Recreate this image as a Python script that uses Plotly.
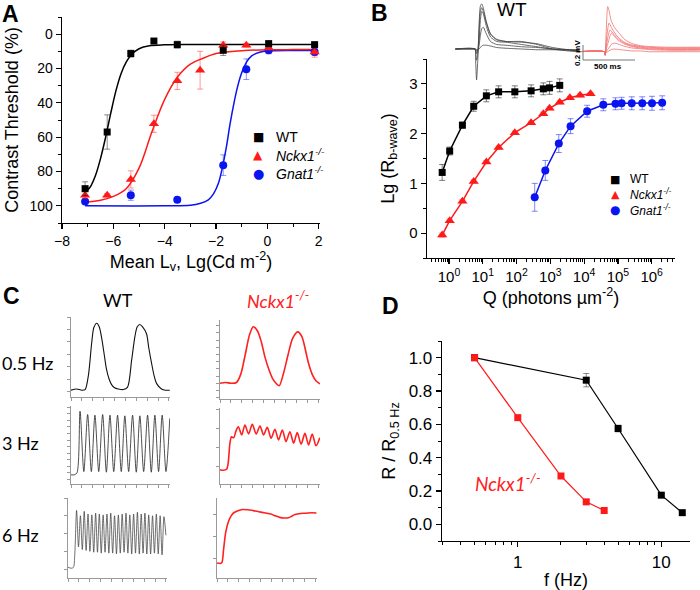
import plotly.graph_objects as go

# ======================= DATA =======================
# ---- Panel A: contrast threshold vs mean luminance ----
A_X_WT = [-7.1, -6.24, -5.32, -4.42, -3.51, -1.72, 0.05, 1.84]
A_Y_WT = [90, 57, 11.3, 4.0, 6.1, 9.4, 5.5, 6.1]
A_E_WT = [4, 10, 2, 1, 2, 3, 1, 1]
A_X_KO = [-7.1, -6.24, -5.32, -4.42, -3.51, -2.62, -1.72, -0.82, 0.05, 1.84]
A_Y_KO = [93.8, 93.8, 84.6, 52.2, 27.2, 21.0, 6.5, 6.5, 8.0, 10.4]
A_E_KO = [2, 1, 5, 5, 5, 11, 2, 1, 1, 3]
A_X_GN = [-7.1, -5.32, -3.51, -1.72, -0.82, 0.05, 1.84]
A_Y_GN = [97.5, 93.8, 96.5, 76.3, 20.4, 9.4, 10.4]
A_E_GN = [1, 3, 1, 6, 6, 2, 2]
# fitted curves
A_FIT_X_WT = [-7.1, -6.9, -6.7, -6.5, -6.3, -6.1, -5.9, -5.7, -5.5, -5.3, -5.0, -4.6, -4.0, -3.0, -1.0, 1.0, 1.85]
A_FIT_Y_WT = [92, 89, 82.5, 72.5, 60, 46, 33, 23, 16.3, 12, 8.5, 6.8, 6.2, 6, 6, 6, 6]
A_FIT_X_KO = [-7.1, -6.5, -6.0, -5.5, -5.0, -4.5, -4.0, -3.5, -3.0, -2.5, -2.0, -1.5, -1.0, 0, 1, 1.85]
A_FIT_Y_KO = [98, 96.8, 94.5, 90, 78, 57, 38, 25, 17.5, 14, 11.3, 10.2, 9.6, 9.1, 9.0, 9.0]
A_FIT_X_GN = [-7.1, -4, -3, -2.6, -2.3, -2.1, -1.9, -1.75, -1.6, -1.45, -1.3, -1.15, -1.0, -0.8, -0.6, -0.3, 0, 1, 1.85]
A_FIT_Y_GN = [100, 100, 99.7, 98.5, 96.5, 93, 86.5, 77.5, 66, 52, 40, 30, 22.5, 16, 12.5, 10.5, 9.8, 9.5, 9.5]

# ---- Panel B: b-wave amplitude vs flash strength ----
B_Q_WT = [0.63, 1.05, 2.5, 5.4, 12.8, 29.5, 89, 270, 620, 950, 1900]
B_Y_WT = [1.22, 1.65, 2.17, 2.55, 2.76, 2.84, 2.84, 2.86, 2.90, 2.92, 2.97]
B_E_WT = [0.16, 0.08, 0.06, 0.1, 0.12, 0.12, 0.12, 0.12, 0.12, 0.13, 0.13]
B_Q_KO = [0.63, 1.05, 2.5, 5.4, 12.8, 29.5, 89, 270, 620, 950, 1900, 3800, 7600, 15500]
B_Y_KO = [-0.04, 0.25, 0.64, 1.04, 1.43, 1.72, 2.02, 2.22, 2.40, 2.51, 2.63, 2.72, 2.77, 2.80]
B_E_KO = [0.04, 0.03, 0.03, 0.03, 0.03, 0.03, 0.03, 0.03, 0.03, 0.03, 0.03, 0.03, 0.03, 0.03]
B_Q_GN = [345, 710, 1780, 3980, 12300, 37000, 85000, 129000, 257000, 525000, 1020000, 2040000]
B_Y_GN = [0.72, 1.26, 1.80, 2.15, 2.45, 2.58, 2.60, 2.61, 2.61, 2.61, 2.61, 2.62]
B_E_GN = [0.28, 0.2, 0.18, 0.15, 0.12, 0.12, 0.12, 0.12, 0.13, 0.13, 0.14, 0.14]
B_TICKVALS = [1, 10, 100, 1e3, 1e4, 1e5, 1e6]
B_TICKTEXT = ["10<sup>0</sup>", "10<sup>1</sup>", "10<sup>2</sup>", "10<sup>3</sup>",
              "10<sup>4</sup>", "10<sup>5</sup>", "10<sup>6</sup>"]

# ---- Panel B insets: ERG traces (time ms, amplitude mV) ----
INSET_WT_T = [-190, 0, 6, 15, 28, 40, 52, 65, 80, 110, 150, 210, 300, 450, 600, 750, 1010]
INSET_WT_V = [
    [0, 0, -0.15, -0.41, -0.12, 0.35, 0.57, 0.60, 0.55, 0.36, 0.20, 0.13, 0.10, 0.09, 0.07, 0.02, -0.03],
    [0, 0, -0.06, -0.15, -0.04, 0.25, 0.50, 0.55, 0.50, 0.35, 0.20, 0.12, 0.10, 0.10, 0.06, 0.00, -0.04],
    [0, 0, -0.02, -0.06, -0.01, 0.12, 0.38, 0.50, 0.47, 0.30, 0.16, 0.10, 0.09, 0.06, 0.03, 0.00, -0.02],
    [0, 0, 0, -0.03, -0.02, 0.05, 0.18, 0.27, 0.29, 0.20, 0.10, 0.06, 0.05, 0.03, 0.02, 0.00, -0.01],
    [0, 0, 0, -0.01, -0.01, 0.00, 0.02, 0.04, 0.05, 0.05, 0.04, 0.02, 0.01, 0.00, -0.01, -0.01, -0.02],
]
INSET_KO_T = [-250, 0, 8, 18, 33, 45, 55, 70, 100, 135, 200, 265, 350, 425, 600, 925]
INSET_KO_V = [
    [0, 0, -0.05, 0.25, 0.60, 0.55, 0.48, 0.40, 0.32, 0.26, 0.16, 0.11, 0.08, 0.07, 0.06, 0.06],
    [0, 0, -0.05, 0.12, 0.30, 0.38, 0.36, 0.32, 0.25, 0.19, 0.12, 0.09, 0.07, 0.06, 0.05, 0.05],
    [0, 0, -0.04, 0.06, 0.18, 0.25, 0.29, 0.27, 0.22, 0.17, 0.11, 0.08, 0.06, 0.05, 0.04, 0.04],
    [0, 0, -0.04, 0.03, 0.10, 0.16, 0.21, 0.245, 0.20, 0.15, 0.10, 0.07, 0.05, 0.04, 0.03, 0.03],
    [0, 0, -0.03, 0.00, 0.03, 0.05, 0.07, 0.10, 0.115, 0.10, 0.07, 0.05, 0.04, 0.03, 0.02, 0.02],
    [0, 0, -0.02, -0.01, 0.00, 0.01, 0.02, 0.03, 0.035, 0.03, 0.02, 0.01, 0.01, 0.00, 0.00, 0.00],
]

# ---- Panel C: flicker ERG traces (time in ticks, amplitude in ticks) ----
C_WT05_X = [0, 0.5, 1.0, 1.3, 1.6, 1.9, 2.1, 2.36, 2.6, 2.82, 3.05, 3.27, 3.5, 3.73, 4.0, 4.34, 4.8,
            5.2, 5.57, 5.87, 6.08, 6.33, 6.58, 6.94, 7.15, 7.4, 7.63, 7.86, 8.32, 8.7, 9.08]
C_WT05_Y = [0.1, 0.2, 0.1, 0.15, 1.3, 3.9, 5.15, 5.5, 5.2, 4.3, 3.0, 1.75, 1.0, 0.55, 0.3, 0.2, 0.15,
            0.35, 2.5, 4.4, 5.2, 5.4, 5.2, 4.65, 3.5, 2.3, 1.3, 0.65, 0.2, 0.1, 0.1]
C_WT3_X = [0, 0.3, 0.55, 0.83, 1.18, 1.53, 1.87, 2.2, 2.55, 2.91, 3.25, 3.58, 3.93, 4.28, 4.62, 4.95,
           5.3, 5.66, 6.0, 6.33, 6.68, 7.04, 7.38, 7.71, 8.05, 8.38, 8.73, 9.08]
C_WT3_Y = [-0.3, -0.3, 0.0, 9.4, 0.2, 8.9, 0.2, 8.8, 0.2, 8.9, 0.1, 8.8, 0.2, 8.8, 0.2, 8.7,
           0.2, 8.8, 0.1, 8.7, 0.2, 8.8, 0.1, 8.8, 0.2, 8.8, 0.2, 8.3]
C_WT6_START_X = [0, 0.3, 0.5, 0.62]
C_WT6_START_Y = [0.1, 0.05, 0.1, 0.8]
C_WT6_PEAK_X = [0.79, 1.14, 1.49, 1.84, 2.19, 2.54, 2.88, 3.23, 3.58, 3.93, 4.28, 4.63, 4.98, 5.33,
                5.68, 6.03, 6.38, 6.73, 7.07, 7.42, 7.77, 8.12, 8.47, 8.82]
C_WT6_PEAK_Y = [3.3, 3.0, 3.25, 3.1, 3.05, 3.15, 3.1, 3.05, 3.1, 3.15, 3.0, 3.05, 3.1, 3.15,
                3.05, 3.1, 3.2, 3.1, 3.15, 3.05, 3.0, 3.1, 3.0, 2.95]
C_WT6_TROUGH_X = [0.965, 1.315, 1.665, 2.015, 2.365, 2.71, 3.055, 3.405, 3.755, 4.105, 4.455, 4.805,
                  5.155, 5.505, 5.855, 6.205, 6.555, 6.9, 7.245, 7.595, 7.945, 8.295, 8.645, 9.0]
C_WT6_TROUGH_Y = [1.25, 1.1, 1.05, 1.0, 0.95, 0.95, 0.9, 0.95, 0.9, 0.9, 0.85, 0.9,
                  0.95, 0.9, 0.85, 0.9, 0.85, 0.9, 0.85, 0.85, 0.9, 0.85, 0.8, 1.9]
C_KO05_X = [0, 0.5, 1.0, 1.5, 1.9, 2.3, 2.7, 3.03, 3.4, 3.75, 4.1, 4.45, 4.8, 5.1, 5.39, 5.75, 6.2,
            6.6, 7.06, 7.45, 7.75, 8.05, 8.4, 8.75, 9.1]
C_KO05_Y = [0, 0.1, 0, 0.1, 1.3, 4.0, 6.8, 7.85, 7.3, 5.8, 3.6, 1.9, 0.6, 0.0, -0.35, 1.2, 4.0,
            6.2, 7.15, 6.5, 4.8, 2.8, 1.2, 0.3, -0.1]
C_KO3_X = [0, 0.3, 0.6, 0.75, 0.9, 1.05, 1.25, 1.45, 1.67, 1.97, 2.27, 2.6, 2.94, 3.29, 3.64, 3.97,
           4.3, 4.65, 5.0, 5.33, 5.67, 6.01, 6.36, 6.7, 7.03, 7.38, 7.73, 8.06, 8.39, 8.74, 9.08]
C_KO3_Y = [-0.17, -0.2, -0.15, 0.2, 1.2, 1.55, 1.5, 1.85, 2.08, 1.65, 2.17, 1.70, 2.21, 1.70, 2.12, 1.65,
           2.05, 1.48, 1.95, 1.39, 1.91, 1.30, 1.82, 1.22, 1.77, 1.17, 1.73, 1.13, 1.70, 1.08, 1.5]
C_KO6_X = [0, 0.3, 0.45, 0.6, 0.8, 1.06, 1.3, 1.5, 1.9, 2.3, 2.8, 3.3, 3.8, 4.4, 4.9, 5.3, 5.7, 6.1,
           6.5, 6.8, 7.1, 7.6, 8.1, 8.6, 9.05]
C_KO6_Y = [-0.23, -0.25, -0.2, 0.4, 1.2, 1.7, 1.95, 2.07, 2.17, 2.23, 2.22, 2.18, 2.13, 2.07, 2.02, 1.94,
           1.87, 1.84, 1.85, 1.92, 2.0, 2.05, 2.06, 2.08, 2.07]

# ---- Panel D: normalised flicker response vs frequency ----
D_F_WT = [0.5, 3, 5, 10, 14]
D_R_WT = [1.0, 0.865, 0.575, 0.175, 0.07]
D_E_WT = [0, 0.04, 0.02, 0.01, 0.01]
D_F_KO = [0.5, 1, 2, 3, 4]
D_R_KO = [1.0, 0.64, 0.29, 0.135, 0.083]

LEG_NAMES = ["WT", "<i>Nckx1<sup>-/-</sup></i>", "<i>Gnat1<sup>-/-</sup></i>"]
LEG_SYMBOLS = ["\u25a0", "\u25b2", "\u25cf"]

# ======================= STYLE / LAYOUT =======================
W, H = 700, 590
FONT = "Liberation Sans, Arial, sans-serif"
CFONT = "Lato, Liberation Sans, sans-serif"
BLACK, RED, BLUE = "#000000", "#ff1a1a", "#0a14f0"
GRAYAX = "#9a9a9a"


def dx(px):
    return px / W


def dy(py):
    return 1 - py / H


fig = go.Figure()
layout = dict(template="none", width=W, height=H, margin=dict(l=0, r=0, t=0, b=0, pad=0, autoexpand=False),
              paper_bgcolor="white", plot_bgcolor="rgba(0,0,0,0)",
              font=dict(family=FONT, color="black"), showlegend=False)


def main_axis(domain, anchor, tickfont, **kw):
    d = dict(domain=domain, anchor=anchor, ticks="outside", ticklen=5, tickwidth=1.2,
             tickcolor="black", showline=True, linecolor="black", linewidth=1.3,
             showgrid=False, zeroline=False, tickfont=dict(size=tickfont, family=FONT),
             fixedrange=True, automargin=False)
    d.update(kw)
    return d


MINOR = dict(ticks="outside", ticklen=3, tickwidth=1, tickcolor="black", showgrid=False)

# Panel A axes
layout["xaxis"] = main_axis([dx(62), dx(320)], "y", 14, range=[-8, 2.05], dtick=2, tick0=0,
                            minor=dict(MINOR, dtick=1),
                            title=dict(text="Mean L<sub>v</sub>, Lg(Cd m<sup>-2</sup>)",
                                       font=dict(size=18), standoff=4))
layout["yaxis"] = main_axis([dy(223), dy(17)], "x", 14, range=[110, -10], dtick=20, tick0=0,
                            minor=dict(MINOR, dtick=10),
                            title=dict(text="Contrast Threshold (%)", font=dict(size=18), standoff=6))

# Panel B axes
b_minor = [m * 10 ** k for k in range(-1, 7) for m in range(2, 10)]
layout["xaxis2"] = main_axis([dx(427), dx(675)], "y2", 15, type="log", range=[-0.65, 6.69],
                             tickmode="array", tickvals=B_TICKVALS, ticktext=B_TICKTEXT,
                             minor=dict(MINOR, tickmode="array", tickvals=b_minor),
                             title=dict(text="Q (photons \u00b5m<sup>-2</sup>)", font=dict(size=18),
                                        standoff=4))
layout["yaxis2"] = main_axis([dy(258), dy(59)], "x2", 15, range=[-0.5, 3.5], dtick=1, tick0=0,
                             minor=dict(MINOR, dtick=0.5),
                             title=dict(text="Lg (R<sub>b-wave</sub>)", font=dict(size=18), standoff=10))

# Panel B insets (hidden axes), scale 9.67 ms/px and 0.0133 mV/px
MS_PX, MV_PX = 9.67, 0.0133
layout["xaxis3"] = dict(domain=[dx(455), dx(580)], range=[-(475 - 455) * MS_PX, (580 - 475) * MS_PX],
                        visible=False, anchor="y3", fixedrange=True, automargin=False)
layout["yaxis3"] = dict(domain=[dy(85), dy(0)], range=[-(85 - 49) * MV_PX, 49 * MV_PX],
                        visible=False, anchor="x3", fixedrange=True, automargin=False)
layout["xaxis4"] = dict(domain=[dx(578), dx(700)], range=[-(604.3 - 578) * MS_PX, (700 - 604.3) * MS_PX],
                        visible=False, anchor="y4", fixedrange=True, automargin=False)
layout["yaxis4"] = dict(domain=[dy(85), dy(0)], range=[-(85 - 51.7) * MV_PX, 51.7 * MV_PX],
                        visible=False, anchor="x4", fixedrange=True, automargin=False)

# Panel C axes
C_PANELS = [  # (axis no, x px, y px, y range)
    (5, (71, 170), (317, 397), [-0.45, 6.0]),
    (6, (71, 170), (406, 484), [-1.7, 10.2]),
    (7, (68, 167), (498, 578), [-0.5, 4.0]),
    (8, (220, 320), (320, 399), [-2.2, 8.8]),
    (9, (220, 320), (408, 484), [-0.92, 3.06]),
    (10, (217, 317), (498, 578), [-0.92, 2.76]),
]
for n, xp, yp, yr in C_PANELS:
    common = dict(ticks="outside", ticklen=3, tickwidth=1, tickcolor=GRAYAX, showline=True,
                  linecolor=GRAYAX, linewidth=1, showticklabels=False, showgrid=False,
                  zeroline=False, fixedrange=True, dtick=1, tick0=0, automargin=False)
    layout[f"xaxis{n}"] = dict(common, domain=[dx(xp[0]), dx(xp[1])], range=[0, 9.1], anchor=f"y{n}")
    layout[f"yaxis{n}"] = dict(common, domain=[dy(yp[1]), dy(yp[0])], range=yr, anchor=f"x{n}")

# Panel D axes
d_minor = [0.3, 0.4, 0.5, 0.6, 0.7, 0.8, 0.9, 2, 3, 4, 5, 6, 7, 8, 9, 20]
layout["xaxis11"] = main_axis([dx(442), dx(690)], "y11", 17, type="log", range=[-0.528, 1.2],
                              tickmode="array", tickvals=[1, 10], ticktext=["1", "10"],
                              minor=dict(MINOR, tickmode="array", tickvals=d_minor),
                              title=dict(text="f (Hz)", font=dict(size=18), standoff=4))
layout["yaxis11"] = main_axis([dy(541), dy(341)], "x11", 17, range=[-0.1, 1.1], dtick=0.2, tick0=0,
                              tickformat=".1f", minor=dict(MINOR, dtick=0.1),
                              title=dict(text="R / R<sub>0.5 Hz</sub>", font=dict(size=18), standoff=8))


# ======================= TRACES =======================
def err(vals, color):
    return dict(type="data", array=vals, visible=True, color=color, thickness=1, width=3)


# --- Panel A ---
for fx, fy, col in [(A_FIT_X_GN, A_FIT_Y_GN, BLUE), (A_FIT_X_KO, A_FIT_Y_KO, RED), (A_FIT_X_WT, A_FIT_Y_WT, BLACK)]:
    fig.add_trace(go.Scatter(x=fx, y=fy, mode="lines", line=dict(color=col, width=1.5, shape="spline", smoothing=1.0),
                             xaxis="x", yaxis="y", hoverinfo="skip"))
A_SERIES = [
    (A_X_GN, A_Y_GN, A_E_GN, BLUE, "circle", 8, "rgba(10,20,240,0.45)"),
    (A_X_KO, A_Y_KO, A_E_KO, RED, "triangle-up", 9, "rgba(255,26,26,0.45)"),
    (A_X_WT, A_Y_WT, A_E_WT, BLACK, "square", 7, "rgba(0,0,0,0.45)"),
]
for x, y, e, col, sym, sz, ecol in A_SERIES:
    fig.add_trace(go.Scatter(x=x, y=y, mode="markers", error_y=err(e, ecol),
                             marker=dict(color=col, symbol=sym, size=sz, line=dict(width=0)),
                             xaxis="x", yaxis="y", hoverinfo="skip"))

# --- Panel B ---
B_SERIES = [
    (B_Q_KO, B_Y_KO, B_E_KO, RED, "triangle-up", 9, "rgba(255,26,26,0.5)"),
    (B_Q_GN, B_Y_GN, B_E_GN, BLUE, "circle", 8, "rgba(10,20,240,0.5)"),
    (B_Q_WT, B_Y_WT, B_E_WT, BLACK, "square", 7, "rgba(0,0,0,0.5)"),
]
for x, y, e, col, sym, sz, ecol in B_SERIES:
    fig.add_trace(go.Scatter(x=x, y=y, mode="lines+markers", error_y=err(e, ecol),
                             line=dict(color=col, width=1.5),
                             marker=dict(color=col, symbol=sym, size=sz, line=dict(width=0)),
                             xaxis="x2", yaxis="y2", hoverinfo="skip"))

# --- Panel B insets ---
for v in INSET_WT_V:
    fig.add_trace(go.Scatter(x=INSET_WT_T, y=v, mode="lines",
                             line=dict(color="#444444", width=0.8, shape="spline", smoothing=0.6),
                             xaxis="x3", yaxis="y3", hoverinfo="skip"))
for v in INSET_KO_V:
    fig.add_trace(go.Scatter(x=INSET_KO_T, y=v, mode="lines",
                             line=dict(color="#f26d6d", width=0.8, shape="spline", smoothing=0.7),
                             xaxis="x4", yaxis="y4", hoverinfo="skip"))

# --- Panel C ---
wt6 = sorted(zip(C_WT6_START_X + C_WT6_PEAK_X + C_WT6_TROUGH_X,
                 C_WT6_START_Y + C_WT6_PEAK_Y + C_WT6_TROUGH_Y))
C_TRACES = [
    (5, C_WT05_X, C_WT05_Y, "#111111", 1.1),
    (6, C_WT3_X, C_WT3_Y, "#222222", 0.8),
    (7, [p[0] for p in wt6], [p[1] for p in wt6], "#333333", 0.7),
    (8, C_KO05_X, C_KO05_Y, "#ff2020", 1.6),
    (9, C_KO3_X, C_KO3_Y, "#ff2020", 1.6),
    (10, C_KO6_X, C_KO6_Y, "#ff2020", 1.6),
]
for n, x, y, col, w in C_TRACES:
    fig.add_trace(go.Scatter(x=x, y=y, mode="lines", line=dict(color=col, width=w, shape="spline", smoothing=0.8),
                             xaxis=f"x{n}", yaxis=f"y{n}", hoverinfo="skip"))

# --- Panel D ---
fig.add_trace(go.Scatter(x=D_F_WT, y=D_R_WT, mode="lines+markers", error_y=err(D_E_WT, "rgba(0,0,0,0.45)"),
                         line=dict(color=BLACK, width=1.2), marker=dict(color=BLACK, symbol="square", size=7),
                         xaxis="x11", yaxis="y11", hoverinfo="skip"))
fig.add_trace(go.Scatter(x=D_F_KO, y=D_R_KO, mode="lines+markers",
                         line=dict(color=RED, width=1.2), marker=dict(color=RED, symbol="square", size=7),
                         xaxis="x11", yaxis="y11", hoverinfo="skip"))

# ======================= ANNOTATIONS & SHAPES =======================
ann = []


def label(text, px, py, size, family=FONT, color="black", xanchor="center", angle=0):
    ann.append(dict(text=text, x=dx(px), y=dy(py), xref="paper", yref="paper", showarrow=False,
                    xanchor=xanchor, yanchor="middle", textangle=angle,
                    font=dict(size=size, family=family, color=color)))


for t, px, py in [("A", 10, 14), ("B", 380, 13), ("C", 11, 296), ("D", 390, 306)]:
    label(f"<b>{t}</b>", px, py, 23)
label("WT", 512, 10, 19)
label("<b>0.2 mV</b>", 577, 53, 8, angle=-90)
label("<b>500 ms</b>", 608, 66, 8)
label("WT", 118, 300, 18, family=CFONT)
label("<i>Nckx1<sup>-/-</sup></i>", 278, 300, 18, family=CFONT, color="#ff2020")
label("0.5 Hz", 0, 363, 18, family=CFONT, xanchor="left")
label("3 Hz", 0, 443, 18, family=CFONT, xanchor="left")
label("6 Hz", 0, 535, 18, family=CFONT, xanchor="left")
label("<i>Nckx1<sup>-/-</sup></i>", 508, 482, 19, family=CFONT, color="#ff2020")

# legends (key glyph + label) for panels A and B
SYM_SIZES_A = [12, 12, 13]
SYM_SIZES_B = [11, 11, 12]
for i, (name, sym, col) in enumerate(zip(LEG_NAMES, LEG_SYMBOLS, [BLACK, RED, BLUE])):
    ya = [136.7, 154.8, 173.3][i]
    label(sym, 258, ya, SYM_SIZES_A[i], family="DejaVu Sans", color=col)
    label(name, 274, ya, 14, xanchor="left")
    yb = [179.3, 194.5, 210][i]
    label(sym, 615, yb, SYM_SIZES_B[i], family="DejaVu Sans", color=col)
    label(name, 628, yb, 12, xanchor="left")

layout["annotations"] = ann

layout["shapes"] = [
    dict(type="line", xref="paper", yref="paper", x0=dx(583), x1=dx(583), y0=dy(45), y1=dy(60),
         line=dict(color="#777777", width=1)),
    dict(type="line", xref="paper", yref="paper", x0=dx(583), x1=dx(635), y0=dy(60), y1=dy(60),
         line=dict(color="#777777", width=1)),
]

fig.update_layout(**layout)
fig.write_html("out.html", config={"displayModeBar": False, "staticPlot": True},
               post_script="document.body.style.margin='0';document.body.style.padding='0';"
                           "document.documentElement.style.margin='0';")
